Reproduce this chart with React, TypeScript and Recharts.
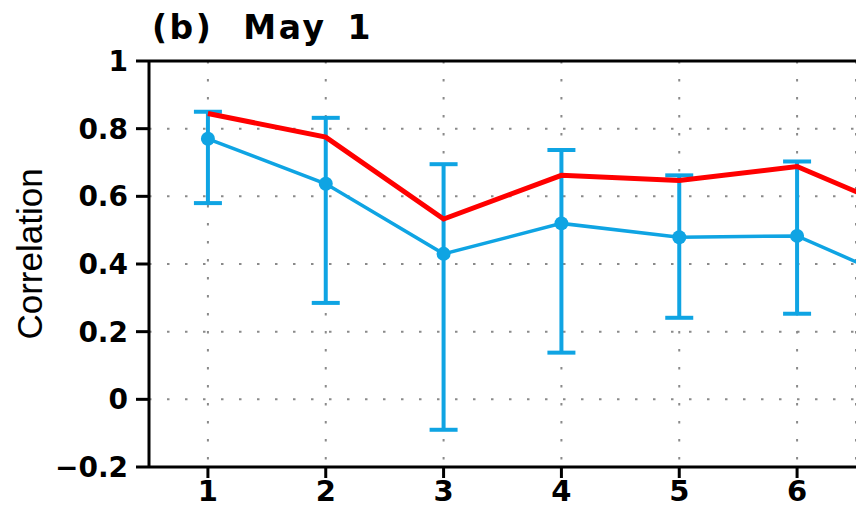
import {
  ComposedChart,
  Line,
  XAxis,
  YAxis,
  CartesianGrid,
  ErrorBar,
  ReferenceLine,
} from "recharts";

// lead (months); the 7th point sits past the right edge and gets clipped
const leads = [1, 2, 3, 4, 5, 6, 7];
const redCorr = [0.845, 0.775, 0.533, 0.662, 0.647, 0.688, 0.54];
const blueCorr = [0.77, 0.637, 0.43, 0.52, 0.479, 0.483, 0.33];
const blueHigh = [0.85, 0.832, 0.695, 0.737, 0.662, 0.703, null];
const blueLow = [0.58, 0.285, -0.09, 0.138, 0.241, 0.253, null];

const xTicks = [1, 2, 3, 4, 5, 6];
const yTicks = [-0.2, 0, 0.2, 0.4, 0.6, 0.8, 1];

const RED = "#ff0000";
const BLUE = "#0fa4e3";

const data = leads.map((lead, i) => {
  const hi = blueHigh[i];
  const lo = blueLow[i];
  return {
    lead,
    red: redCorr[i],
    blue: blueCorr[i],
    err: hi == null || lo == null ? null : [blueCorr[i] - lo, hi - blueCorr[i]],
  };
});

const fmtY = (v: number) => {
  const s = String(Math.round(v * 10) / 10);
  return s.startsWith("-") ? "\u2212" + s.slice(1) : s;
};

const yTickFont = {
  fill: "#000",
  fontSize: 28,
  fontFamily: "DejaVu Sans",
  fontWeight: 700,
};

const xTickFont = { ...yTickFont, fontSize: 29 };

export default function App() {
  return (
    <div style={{ position: "absolute", left: 0, top: 0, width: 856, height: 508, background: "#fff" }}>
      <div
        style={{
          position: "absolute",
          left: 152,
          top: 11,
          fontFamily: "DejaVu Sans",
          fontWeight: 700,
          fontSize: 33,
          lineHeight: "33px",
          letterSpacing: 2.5,
          whiteSpace: "pre",
          color: "#000",
        }}
      >
        <span>(b)</span>
        <span style={{ marginLeft: 30 }}>May</span>
        <span style={{ marginLeft: 21 }}>1</span>
      </div>
      <ComposedChart
        width={856}
        height={508}
        data={data}
        margin={{ top: 61, right: 0, bottom: 0, left: 0 }}
      >
        <CartesianGrid stroke="#8a8a8a" strokeWidth={2} strokeDasharray="2.5 15.5" />
        <XAxis
          dataKey="lead"
          type="number"
          domain={[0.5, 6.5]}
          ticks={xTicks}
          allowDataOverflow
          height={41}
          tickSize={11}
          tickMargin={2}
          axisLine={{ stroke: "#000", strokeWidth: 3 }}
          tickLine={{ stroke: "#000", strokeWidth: 3 }}
          tick={xTickFont}
        />
        <YAxis
          type="number"
          domain={[-0.2, 1]}
          ticks={yTicks}
          allowDataOverflow
          width={149}
          tickSize={13}
          tickMargin={8}
          tickFormatter={fmtY}
          axisLine={{ stroke: "#000", strokeWidth: 3 }}
          tickLine={{ stroke: "#000", strokeWidth: 3 }}
          tick={yTickFont}
          label={{
            content: () => (
              <text
                x={29}
                y={254}
                transform="rotate(-90 29 254)"
                textAnchor="middle"
                dominantBaseline="central"
                fontFamily="Liberation Sans"
                fontSize={35}
                fill="#000"
              >
                Correlation
              </text>
            ),
          }}
        />
        <ReferenceLine y={1} stroke="#000" strokeWidth={3} />
        <Line
          dataKey="blue"
          stroke={BLUE}
          strokeWidth={3.5}
          dot={{ r: 7, fill: BLUE, stroke: BLUE, strokeWidth: 0 }}
          activeDot={false}
          isAnimationActive={false}
        >
          <ErrorBar dataKey="err" direction="y" width={14} stroke={BLUE} strokeWidth={4} />
        </Line>
        <Line
          dataKey="red"
          stroke={RED}
          strokeWidth={5}
          dot={false}
          activeDot={false}
          isAnimationActive={false}
        />
      </ComposedChart>
    </div>
  );
}
